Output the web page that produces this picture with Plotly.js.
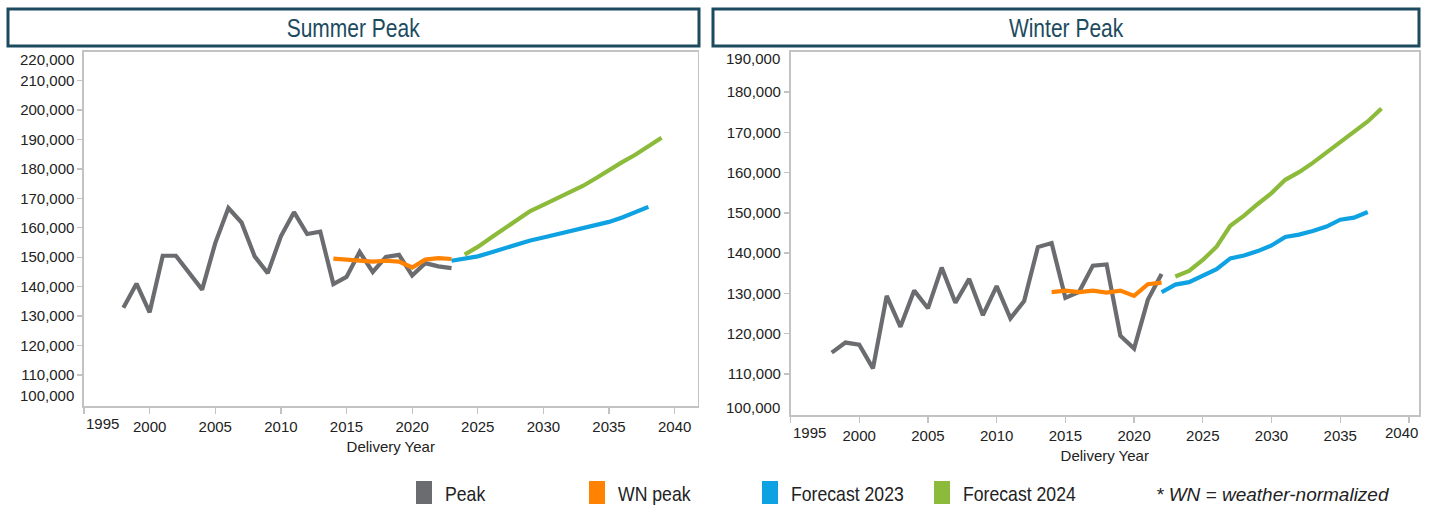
<!DOCTYPE html>
<html>
<head>
<meta charset="utf-8">
<script src="https://cdn.plot.ly/plotly-3.0.1.min.js"></script>
<style>
html,body{margin:0;padding:0;background:#fff;}
#chart{width:1431px;height:505px;}
</style>
</head>
<body>
<div id="chart"></div>
<script>
// ---------------- DATA ----------------
const panelTitles = ['Summer Peak', 'Winter Peak'];
const xAxisTitle = 'Delivery Year';
const seriesNames = ['Peak', 'WN peak', 'Forecast 2023', 'Forecast 2024'];
const footnote = '* WN = weather-normalized';

const xTickYears = [1995, 2000, 2005, 2010, 2015, 2020, 2025, 2030, 2035, 2040];

// Summer
const summerPeakYears = [1998,1999,2000,2001,2002,2003,2004,2005,2006,2007,2008,2009,2010,2011,2012,2013,2014,2015,2016,2017,2018,2019,2020,2021,2022,2023];
const summerPeak = [132800,141000,131300,150500,150500,144800,139000,154800,166700,161800,150300,144600,157100,165300,157900,158700,140900,143300,151800,145000,150100,150800,143800,148000,146900,146300];
const summerWNYears = [2014,2015,2016,2017,2018,2019,2020,2021,2022,2023];
const summerWN = [149500,149200,148700,148500,148800,148500,146500,149200,149700,149400];
const summerF23Years = [2023,2024,2025,2026,2027,2028,2029,2030,2031,2032,2033,2034,2035,2036,2037,2038];
const summerF23 = [148800,149400,150300,151600,153000,154500,155700,156700,157700,158700,159800,160900,162000,163500,165200,167100];
const summerF24Years = [2024,2025,2026,2027,2028,2029,2030,2031,2032,2033,2034,2035,2036,2037,2038,2039];
const summerF24 = [150900,153500,156600,159700,162800,165700,167800,169900,172000,174200,176800,179700,182300,184800,187500,190600];
const summerYTicks = [100000,110000,120000,130000,140000,150000,160000,170000,180000,190000,200000,210000,220000];

// Winter
const winterPeakYears = [1998,1999,2000,2001,2002,2003,2004,2005,2006,2007,2008,2009,2010,2011,2012,2013,2014,2015,2016,2017,2018,2019,2020,2021,2022];
const winterPeak = [115300,117800,117300,111400,129400,121700,130700,126300,136400,127700,133600,124600,131800,123800,128100,141500,142500,128900,130400,136900,137200,119500,116300,128400,134800];
const winterWNYears = [2014,2015,2016,2017,2018,2019,2020,2021,2022];
const winterWN = [130300,130700,130300,130700,130200,130700,129400,132300,132700];
const winterF23Years = [2022,2023,2024,2025,2026,2027,2028,2029,2030,2031,2032,2033,2034,2035,2036,2037];
const winterF23 = [130300,132200,132800,134300,136000,138700,139400,140500,141900,144000,144600,145500,146600,148300,148800,150200];
const winterF24Years = [2023,2024,2025,2026,2027,2028,2029,2030,2031,2032,2033,2034,2035,2036,2037,2038];
const winterF24 = [134200,135600,138300,141600,146800,149300,152200,154900,158200,160100,162400,164900,167700,170000,172700,175900];
const winterYTicks = [100000,110000,120000,130000,140000,150000,160000,170000,180000,190000];

// ---------------- STYLE ----------------
const W = 1431, H = 505;
const colors = ['#6b6c6f', '#ff8200', '#0ea2e2', '#8cbb3c'];
const teal = '#1c4b5f';
const axisGray = '#c3c3c3';
const txt = '#222222';
const baseFont = 'Liberation Sans, Arial, sans-serif';
const narrowFont = 'Liberation Sans Narrow, Arial Narrow, Liberation Sans, Arial, sans-serif';
const narrowTexts = panelTitles.concat(seriesNames);
const NARROW = 0.84;
const px = x => x / W;
const py = y => 1 - y / H;

// panel geometry (pixels)
const panels = [
  {x0: 84, x1: 697.5, y0: 52, y1: 406, xr: [1995, 2041.74], yr: [99470, 219700], box: [8, 699], topShift: -8, botShift: 11},
  {x0: 790.5, x1: 1419, y0: 52, y1: 415, xr: [1995, 2040.73], yr: [99820, 189930], box: [713, 1419], topShift: -7, botShift: 8}
];

const sets = [
  [[summerPeakYears, summerPeak], [summerWNYears, summerWN], [summerF23Years, summerF23], [summerF24Years, summerF24]],
  [[winterPeakYears, winterPeak], [winterWNYears, winterWN], [winterF23Years, winterF23], [winterF24Years, winterF24]]
];

const traces = [];
sets.forEach((s, pi) => {
  s.forEach((pair, si) => {
    traces.push({
      x: pair[0], y: pair[1], type: 'scatter', mode: 'lines',
      name: seriesNames[si], showlegend: false,
      line: {color: colors[si], width: 4.2},
      xaxis: pi === 0 ? 'x' : 'x2', yaxis: pi === 0 ? 'y' : 'y2',
      hoverinfo: 'skip'
    });
  });
});

const fmt = v => v.toLocaleString('en-US');

function xaxis(p, edgeRightClamp) {
  return {
    domain: [px(p.x0), px(p.x1)], range: p.xr,
    tickmode: 'array', tickvals: xTickYears,
    ticktext: xTickYears.map((v, i) => (i === 0 || (edgeRightClamp && i === xTickYears.length - 1)) ? '' : String(v)),
    ticks: 'outside', ticklen: 6, tickcolor: axisGray, tickwidth: 1.3,
    showline: true, linecolor: axisGray, linewidth: 1.6, mirror: true,
    showgrid: false, zeroline: false,
    tickfont: {family: baseFont, size: 15, color: txt},
    title: {text: xAxisTitle, font: {family: baseFont, size: 15, color: txt}, standoff: 8},
    fixedrange: true
  };
}
function isInner(p, v) { return v > p.yr[0] + 2000 && v < p.yr[1] - 2000; }
function yaxis(p, ticks) {
  const inner = ticks.filter(v => isInner(p, v));
  return {
    domain: [py(p.y1), py(p.y0)], range: p.yr,
    tickmode: 'array', tickvals: inner, ticktext: inner.map(fmt),
    ticks: 'outside', ticklen: 5, tickcolor: axisGray, tickwidth: 1.3,
    showline: true, linecolor: axisGray, linewidth: 1.6, mirror: true,
    showgrid: false, zeroline: false,
    tickfont: {family: baseFont, size: 15, color: txt},
    fixedrange: true
  };
}

const layout = {
  width: W, height: H,
  margin: {l: 0, r: 0, t: 0, b: 0},
  paper_bgcolor: '#ffffff', plot_bgcolor: '#ffffff',
  showlegend: false,
  xaxis: Object.assign(xaxis(panels[0], false), {anchor: 'y'}),
  yaxis: Object.assign(yaxis(panels[0], summerYTicks), {anchor: 'x'}),
  xaxis2: Object.assign(xaxis(panels[1], true), {anchor: 'y2'}),
  yaxis2: Object.assign(yaxis(panels[1], winterYTicks), {anchor: 'x2'}),
  shapes: [],
  annotations: []
};

// Title boxes
panels.forEach((p, i) => {
  layout.shapes.push({type: 'rect', xref: 'paper', yref: 'paper',
    x0: px(p.box[0]), x1: px(p.box[1]), y0: py(46), y1: py(9),
    line: {color: teal, width: 3}, fillcolor: 'rgba(0,0,0,0)'});
  layout.annotations.push({xref: 'paper', yref: 'paper',
    x: px((p.box[0] + p.box[1]) / 2), y: py(28), xanchor: 'center', yanchor: 'middle',
    text: panelTitles[i], showarrow: false,
    font: {family: narrowFont, size: 25, color: teal}});
});

// Edge tick labels drawn inside the axis ends (as in the original)
function edgeY(axis, p, ticks, xPix) {
  ticks.filter(v => !isInner(p, v)).forEach(v => {
    const top = v > (p.yr[0] + p.yr[1]) / 2;
    layout.annotations.push({xref: 'paper', yref: 'paper', x: px(xPix),
      y: top ? py(p.y0) : py(p.y1),
      xanchor: 'right', yanchor: 'middle', showarrow: false, text: fmt(v),
      yshift: top ? p.topShift : p.botShift,
      font: {family: baseFont, size: 15, color: txt}});
  });
}
edgeY('y', panels[0], summerYTicks, 76);
edgeY('y2', panels[1], winterYTicks, 782);

function edgeX(axis, p, idxs, shifts) {
  idxs.forEach((ix, k) => {
    layout.annotations.push({xref: axis, yref: 'paper', x: xTickYears[ix], y: py(p.y1),
      xanchor: 'center', yanchor: 'top', showarrow: false, text: String(xTickYears[ix]),
      xshift: shifts[k], yshift: -7,
      font: {family: baseFont, size: 15, color: txt}});
  });
}
edgeX('x', panels[0], [0], [18]);
edgeX('x2', panels[1], [0, xTickYears.length - 1], [19, -7]);

// Legend (bottom)
const legendX = [416, 589, 762, 934];
seriesNames.forEach((n, i) => {
  layout.shapes.push({type: 'rect', xref: 'paper', yref: 'paper',
    x0: px(legendX[i]), x1: px(legendX[i] + 16), y0: py(504), y1: py(481),
    line: {width: 0}, fillcolor: colors[i]});
  layout.annotations.push({xref: 'paper', yref: 'paper', x: px(legendX[i] + 27), y: py(493),
    xanchor: 'left', yanchor: 'middle', align: 'left', showarrow: false, text: n,
    font: {family: narrowFont, size: 21, color: txt}});
});
layout.annotations.push({xref: 'paper', yref: 'paper', x: px(1154), y: py(494),
  xanchor: 'left', yanchor: 'middle', align: 'left', showarrow: false, text: '<i>' + footnote + '</i>',
  font: {family: baseFont, size: 19, color: txt}});

Plotly.newPlot('chart', traces, layout, {displayModeBar: false, staticPlot: true}).then(gd => {
  // emulate the condensed typeface of the original by compressing glyphs horizontally
  gd.querySelectorAll('text.annotation-text').forEach(el => {
    if (narrowTexts.indexOf(el.textContent) >= 0) {
      const len = el.getComputedTextLength();
      el.setAttribute('textLength', (len * NARROW).toFixed(1));
      el.setAttribute('lengthAdjust', 'spacingAndGlyphs');
    }
  });
});
</script>
</body>
</html>
